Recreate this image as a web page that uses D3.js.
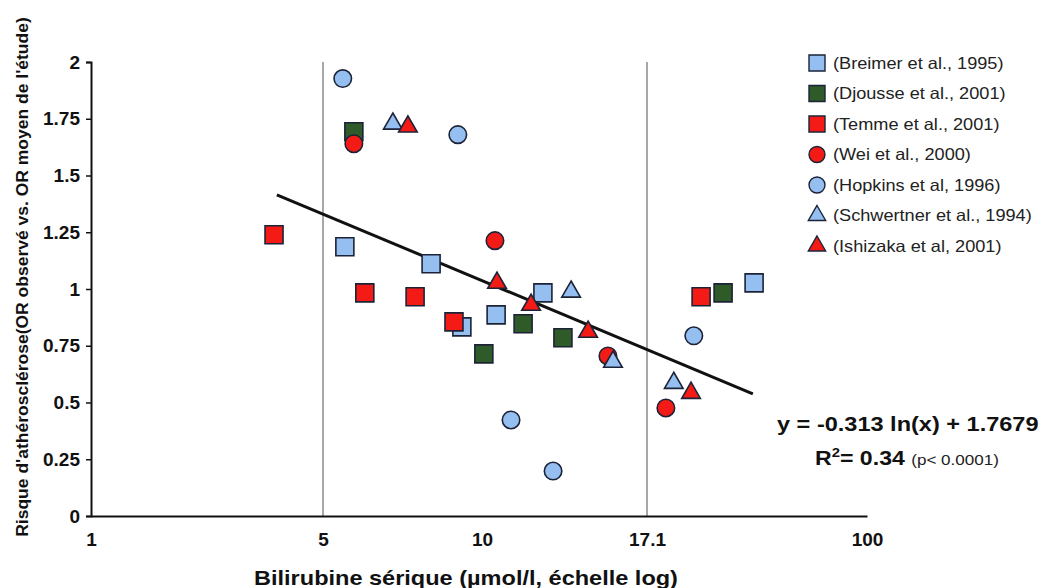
<!DOCTYPE html>
<html>
<head>
<meta charset="utf-8">
<script src="https://cdn.jsdelivr.net/npm/d3@7/dist/d3.min.js"></script>
<style>
  body { margin: 0; background: #fff; }
  text { font-family: "Liberation Sans", Arial, sans-serif; }
</style>
</head>
<body>
<svg id="chart" width="1049" height="588"></svg>
<script>
// tick labels and reference lines
const xTicks = [1, 5, 10, 17.1, 100];
const yTicks = [0, 0.25, 0.5, 0.75, 1, 1.25, 1.5, 1.75, 2];
const refLines = [5, 17.1];

// one array per study: [bilirubin, relative OR]
const breimer = [[5.50, 1.186], [8.01, 1.111], [9.16, 0.833], [10.47, 0.886], [12.19, 0.983], [40.4, 1.027]];
const djousse = [[5.72, 1.693], [10.06, 0.714], [11.43, 0.847], [13.01, 0.785], [31.5, 0.983]];
const temme = [[3.56, 1.239], [6.00, 0.983], [7.47, 0.966], [8.85, 0.855], [26.4, 0.966]];
const wei = [[5.72, 1.640], [10.43, 1.213], [15.06, 0.705], [19.9, 0.476]];
const hopkins = [[5.45, 1.927], [9.00, 1.680], [10.99, 0.423], [12.60, 0.198], [24.9, 0.794]];
const schwertner = [[6.78, 1.728], [13.36, 0.988], [15.31, 0.679], [21.2, 0.586]];
const ishizaka = [[7.24, 1.715], [10.50, 1.027], [11.73, 0.930], [14.12, 0.811], [24.35, 0.542]];

// fitted trend line end points
const trend = [[3.63, 1.415], [40.0, 0.538]];

const studyNames = [
  "(Breimer et al., 1995)",
  "(Djousse et al., 2001)",
  "(Temme et al., 2001)",
  "(Wei et al., 2000)",
  "(Hopkins et al, 1996)",
  "(Schwertner et al., 1994)",
  "(Ishizaka et al, 2001)"
];

const lightBlue = "#95bff0";
const green = "#2f5b28";
const red = "#f41b17";
const outline = "#1c2338";

const series = [
  { name: studyNames[0], data: breimer, shape: d3.symbolSquare, fill: lightBlue },
  { name: studyNames[1], data: djousse, shape: d3.symbolSquare, fill: green },
  { name: studyNames[2], data: temme, shape: d3.symbolSquare, fill: red },
  { name: studyNames[3], data: wei, shape: d3.symbolCircle, fill: red },
  { name: studyNames[4], data: hopkins, shape: d3.symbolCircle, fill: lightBlue },
  { name: studyNames[5], data: schwertner, shape: d3.symbolTriangle, fill: lightBlue },
  { name: studyNames[6], data: ishizaka, shape: d3.symbolTriangle, fill: red }
];

const sizes = new Map([[d3.symbolSquare, 324], [d3.symbolCircle, 240], [d3.symbolTriangle, 150]]);
const legendSizes = new Map([[d3.symbolSquare, 256], [d3.symbolCircle, 200], [d3.symbolTriangle, 130]]);

// the source picture is a bit wider than tall, so text gets stretched sideways
function stretch(sel, k) {
  sel.each(function () {
    const w = this.getComputedTextLength();
    d3.select(this)
      .attr('textLength', w * k)
      .attr('lengthAdjust', 'spacingAndGlyphs');
  });
}

const svg = d3.select('#chart');

const plot = { left: 91, right: 867, top: 62, bottom: 516 };

// the original axis is a hand-spaced log scale, so map it piecewise
const x = d3.scaleLog()
  .domain(xTicks)
  .range([plot.left, 323, 482, 647, plot.right]);

const y = d3.scaleLinear()
  .domain([0, 2])
  .range([plot.bottom, plot.top]);

// reference verticals at 5 and 17.1
svg.append('g')
  .selectAll('line')
  .data(refLines)
  .enter()
  .append('line')
  .attr('x1', (d) => x(d))
  .attr('x2', (d) => x(d))
  .attr('y1', plot.top)
  .attr('y2', plot.bottom)
  .attr('stroke', '#6d6d6d')
  .attr('stroke-width', 1.2);

// y axis
const yAxis = svg.append('g')
  .attr('transform', `translate(${plot.left},0)`)
  .call(d3.axisLeft(y).tickValues(yTicks).tickSize(5).tickPadding(6).tickFormat((d) => String(d)));
yAxis.select('.domain').attr('stroke', '#111').attr('stroke-width', 2);
yAxis.selectAll('.tick line').attr('stroke', '#111').attr('stroke-width', 1.5);
yAxis.selectAll('text')
  .attr('font-size', 19)
  .attr('font-weight', 'bold')
  .attr('fill', '#111');

// x axis
const xAxis = svg.append('g')
  .attr('transform', `translate(0,${plot.bottom})`)
  .call(d3.axisBottom(x).tickValues(xTicks).tickSize(0).tickPadding(17).tickFormat((d) => String(d)));
xAxis.select('.domain').attr('stroke', '#111').attr('stroke-width', 2);
xAxis.selectAll('text')
  .attr('font-size', 19)
  .attr('font-weight', 'bold')
  .attr('fill', '#111');

// axis titles
svg.append('text')
  .attr('x', 466)
  .attr('y', 585)
  .attr('text-anchor', 'middle')
  .attr('font-size', 21)
  .attr('font-weight', 'bold')
  .attr('fill', '#111')
  .text('Bilirubine sérique (µmol/l, échelle log)')
  .call(stretch, 1.12);

svg.append('text')
  .attr('transform', 'translate(28,277) rotate(-90)')
  .attr('text-anchor', 'middle')
  .attr('font-size', 16.5)
  .attr('font-weight', 'bold')
  .attr('fill', '#111')
  .text("Risque d'athérosclérose(OR observé vs. OR moyen de l'étude)")
  .call(stretch, 1.06);

// trend line
svg.append('path')
  .datum(trend)
  .attr('d', d3.line().x((d) => x(d[0])).y((d) => y(d[1])))
  .attr('fill', 'none')
  .attr('stroke', '#111')
  .attr('stroke-width', 3);

// points
const symbol = d3.symbol();
series.forEach((s) => {
  svg.append('g')
    .selectAll('path')
    .data(s.data)
    .enter()
    .append('path')
    .attr('transform', (d) => `translate(${x(d[0])},${y(d[1])})`)
    .attr('d', symbol.type(s.shape).size(sizes.get(s.shape))())
    .attr('fill', s.fill)
    .attr('stroke', outline)
    .attr('stroke-width', 1.6);
});

// legend
const legend = svg.append('g')
  .attr('transform', 'translate(817,63)');

const rows = legend.selectAll('g')
  .data(series)
  .enter()
  .append('g')
  .attr('transform', (d, i) => `translate(0,${i * 30.5})`);

rows.append('path')
  .attr('d', (d) => d3.symbol().type(d.shape).size(legendSizes.get(d.shape))())
  .attr('fill', (d) => d.fill)
  .attr('stroke', outline)
  .attr('stroke-width', 1.4);

rows.append('text')
  .attr('x', 16)
  .attr('dy', '0.36em')
  .attr('font-size', 16.5)
  .attr('fill', '#222')
  .text((d) => d.name)
  .call(stretch, 1.1);

// equation
svg.append('text')
  .attr('x', 777)
  .attr('y', 431)
  .attr('font-size', 21)
  .attr('font-weight', 'bold')
  .attr('fill', '#111')
  .text('y = -0.313 ln(x) + 1.7679')
  .call(stretch, 1.12);

const r2 = svg.append('text')
  .attr('x', 815)
  .attr('y', 465)
  .attr('font-size', 21)
  .attr('font-weight', 'bold')
  .attr('fill', '#111');
r2.append('tspan').text('R');
r2.append('tspan').attr('dy', -8).attr('font-size', 13.5).text('2');
r2.append('tspan').attr('dy', 8).text('= 0.34 ');
r2.append('tspan')
  .attr('font-size', 15.5)
  .attr('font-weight', 'normal')
  .attr('fill', '#222')
  .text('(p< 0.0001)');
r2.call(stretch, 1.1);
</script>
</body>
</html>
